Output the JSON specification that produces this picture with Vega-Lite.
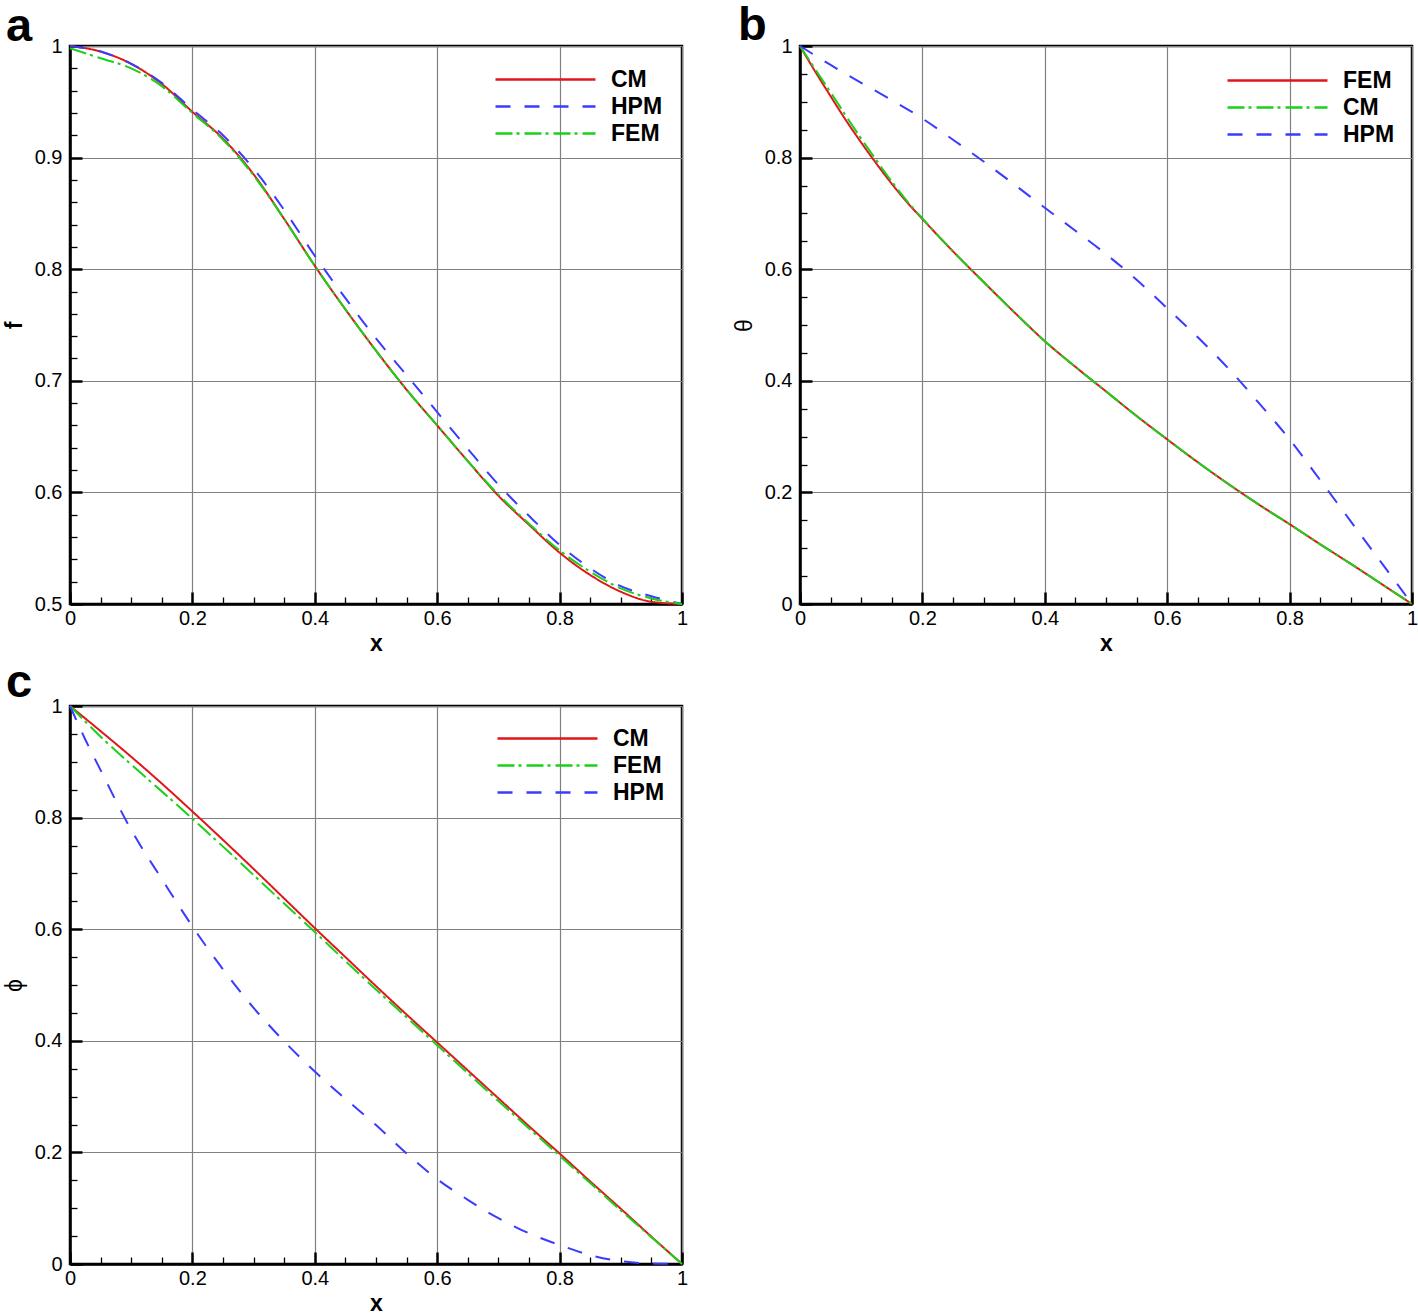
{
  "$schema": "https://vega.github.io/schema/vega-lite/v6.json",
  "background": "white",
  "padding": {"left": 1, "top": 0, "right": 0, "bottom": 0},
  "columns": 2,
  "spacing": {"column": 42, "row": 0},
  "datasets": {
    "a": [
      {"s":"CM","x":0,"y":1},{"s":"CM","x":0.05,"y":0.995},{"s":"CM","x":0.1,"y":0.984},{"s":"CM","x":0.15,"y":0.966},{"s":"CM","x":0.2,"y":0.941},{"s":"CM","x":0.25,"y":0.917},{"s":"CM","x":0.3,"y":0.885},{"s":"CM","x":0.35,"y":0.845},{"s":"CM","x":0.4,"y":0.803},{"s":"CM","x":0.45,"y":0.764},{"s":"CM","x":0.5,"y":0.727},{"s":"CM","x":0.55,"y":0.692},{"s":"CM","x":0.6,"y":0.66},{"s":"CM","x":0.65,"y":0.628},{"s":"CM","x":0.7,"y":0.597},{"s":"CM","x":0.75,"y":0.571},{"s":"CM","x":0.8,"y":0.546},{"s":"CM","x":0.85,"y":0.526},{"s":"CM","x":0.9,"y":0.511},{"s":"CM","x":0.95,"y":0.502},{"s":"CM","x":1,"y":0.5},
      {"s":"HPM","x":0,"y":1},{"s":"HPM","x":0.05,"y":0.995},{"s":"HPM","x":0.1,"y":0.984},{"s":"HPM","x":0.15,"y":0.967},{"s":"HPM","x":0.2,"y":0.943},{"s":"HPM","x":0.25,"y":0.92},{"s":"HPM","x":0.3,"y":0.89},{"s":"HPM","x":0.35,"y":0.853},{"s":"HPM","x":0.4,"y":0.812},{"s":"HPM","x":0.45,"y":0.774},{"s":"HPM","x":0.5,"y":0.738},{"s":"HPM","x":0.55,"y":0.705},{"s":"HPM","x":0.6,"y":0.672},{"s":"HPM","x":0.65,"y":0.639},{"s":"HPM","x":0.7,"y":0.607},{"s":"HPM","x":0.75,"y":0.579},{"s":"HPM","x":0.8,"y":0.553},{"s":"HPM","x":0.85,"y":0.532},{"s":"HPM","x":0.9,"y":0.516},{"s":"HPM","x":0.95,"y":0.507},{"s":"HPM","x":1,"y":0.5},
      {"s":"FEM","x":0,"y":0.998},{"s":"FEM","x":0.05,"y":0.989},{"s":"FEM","x":0.1,"y":0.98},{"s":"FEM","x":0.15,"y":0.964},{"s":"FEM","x":0.2,"y":0.94},{"s":"FEM","x":0.25,"y":0.916},{"s":"FEM","x":0.3,"y":0.884},{"s":"FEM","x":0.35,"y":0.845},{"s":"FEM","x":0.4,"y":0.803},{"s":"FEM","x":0.45,"y":0.764},{"s":"FEM","x":0.5,"y":0.727},{"s":"FEM","x":0.55,"y":0.692},{"s":"FEM","x":0.6,"y":0.66},{"s":"FEM","x":0.65,"y":0.628},{"s":"FEM","x":0.7,"y":0.598},{"s":"FEM","x":0.75,"y":0.572},{"s":"FEM","x":0.8,"y":0.548},{"s":"FEM","x":0.85,"y":0.529},{"s":"FEM","x":0.9,"y":0.514},{"s":"FEM","x":0.95,"y":0.505},{"s":"FEM","x":1,"y":0.5}
    ],
    "b": [
      {"s":"FEM","x":0,"y":1},{"s":"FEM","x":0.025,"y":0.954},{"s":"FEM","x":0.05,"y":0.91},{"s":"FEM","x":0.075,"y":0.867},{"s":"FEM","x":0.1,"y":0.827},{"s":"FEM","x":0.125,"y":0.789},{"s":"FEM","x":0.15,"y":0.753},{"s":"FEM","x":0.175,"y":0.72},{"s":"FEM","x":0.2,"y":0.69},{"s":"FEM","x":0.25,"y":0.632},{"s":"FEM","x":0.3,"y":0.577},{"s":"FEM","x":0.35,"y":0.523},{"s":"FEM","x":0.4,"y":0.471},{"s":"FEM","x":0.45,"y":0.425},{"s":"FEM","x":0.5,"y":0.381},{"s":"FEM","x":0.55,"y":0.337},{"s":"FEM","x":0.6,"y":0.295},{"s":"FEM","x":0.65,"y":0.254},{"s":"FEM","x":0.7,"y":0.215},{"s":"FEM","x":0.75,"y":0.178},{"s":"FEM","x":0.8,"y":0.143},{"s":"FEM","x":0.85,"y":0.107},{"s":"FEM","x":0.9,"y":0.072},{"s":"FEM","x":0.95,"y":0.036},{"s":"FEM","x":1,"y":0},
      {"s":"CM","x":0,"y":1},{"s":"CM","x":0.025,"y":0.958},{"s":"CM","x":0.05,"y":0.917},{"s":"CM","x":0.075,"y":0.875},{"s":"CM","x":0.1,"y":0.834},{"s":"CM","x":0.125,"y":0.795},{"s":"CM","x":0.15,"y":0.757},{"s":"CM","x":0.175,"y":0.722},{"s":"CM","x":0.2,"y":0.691},{"s":"CM","x":0.25,"y":0.632},{"s":"CM","x":0.3,"y":0.577},{"s":"CM","x":0.35,"y":0.523},{"s":"CM","x":0.4,"y":0.471},{"s":"CM","x":0.45,"y":0.425},{"s":"CM","x":0.5,"y":0.381},{"s":"CM","x":0.55,"y":0.337},{"s":"CM","x":0.6,"y":0.295},{"s":"CM","x":0.65,"y":0.254},{"s":"CM","x":0.7,"y":0.215},{"s":"CM","x":0.75,"y":0.178},{"s":"CM","x":0.8,"y":0.143},{"s":"CM","x":0.85,"y":0.107},{"s":"CM","x":0.9,"y":0.072},{"s":"CM","x":0.95,"y":0.036},{"s":"CM","x":1,"y":0},
      {"s":"HPM","x":0,"y":1},{"s":"HPM","x":0.05,"y":0.966},{"s":"HPM","x":0.1,"y":0.934},{"s":"HPM","x":0.15,"y":0.903},{"s":"HPM","x":0.2,"y":0.87},{"s":"HPM","x":0.25,"y":0.832},{"s":"HPM","x":0.3,"y":0.793},{"s":"HPM","x":0.35,"y":0.752},{"s":"HPM","x":0.4,"y":0.71},{"s":"HPM","x":0.45,"y":0.669},{"s":"HPM","x":0.5,"y":0.627},{"s":"HPM","x":0.55,"y":0.581},{"s":"HPM","x":0.6,"y":0.53},{"s":"HPM","x":0.65,"y":0.478},{"s":"HPM","x":0.7,"y":0.422},{"s":"HPM","x":0.75,"y":0.36},{"s":"HPM","x":0.8,"y":0.295},{"s":"HPM","x":0.85,"y":0.222},{"s":"HPM","x":0.9,"y":0.148},{"s":"HPM","x":0.95,"y":0.074},{"s":"HPM","x":1,"y":0}
    ],
    "c": [
      {"s":"CM","x":0,"y":1},{"s":"CM","x":0.05,"y":0.955},{"s":"CM","x":0.1,"y":0.909},{"s":"CM","x":0.15,"y":0.861},{"s":"CM","x":0.2,"y":0.811},{"s":"CM","x":0.25,"y":0.76},{"s":"CM","x":0.3,"y":0.708},{"s":"CM","x":0.35,"y":0.655},{"s":"CM","x":0.4,"y":0.602},{"s":"CM","x":0.45,"y":0.55},{"s":"CM","x":0.5,"y":0.498},{"s":"CM","x":0.55,"y":0.447},{"s":"CM","x":0.6,"y":0.397},{"s":"CM","x":0.65,"y":0.347},{"s":"CM","x":0.7,"y":0.297},{"s":"CM","x":0.75,"y":0.247},{"s":"CM","x":0.8,"y":0.198},{"s":"CM","x":0.85,"y":0.148},{"s":"CM","x":0.9,"y":0.099},{"s":"CM","x":0.95,"y":0.049},{"s":"CM","x":1,"y":0},
      {"s":"FEM","x":0,"y":1},{"s":"FEM","x":0.05,"y":0.945},{"s":"FEM","x":0.1,"y":0.895},{"s":"FEM","x":0.15,"y":0.847},{"s":"FEM","x":0.2,"y":0.798},{"s":"FEM","x":0.25,"y":0.748},{"s":"FEM","x":0.3,"y":0.697},{"s":"FEM","x":0.35,"y":0.646},{"s":"FEM","x":0.4,"y":0.595},{"s":"FEM","x":0.45,"y":0.543},{"s":"FEM","x":0.5,"y":0.492},{"s":"FEM","x":0.55,"y":0.442},{"s":"FEM","x":0.6,"y":0.392},{"s":"FEM","x":0.65,"y":0.342},{"s":"FEM","x":0.7,"y":0.292},{"s":"FEM","x":0.75,"y":0.243},{"s":"FEM","x":0.8,"y":0.194},{"s":"FEM","x":0.85,"y":0.145},{"s":"FEM","x":0.9,"y":0.096},{"s":"FEM","x":0.95,"y":0.048},{"s":"FEM","x":1,"y":0},
      {"s":"HPM","x":0,"y":1},{"s":"HPM","x":0.025,"y":0.94},{"s":"HPM","x":0.05,"y":0.885},{"s":"HPM","x":0.1,"y":0.778},{"s":"HPM","x":0.15,"y":0.69},{"s":"HPM","x":0.2,"y":0.605},{"s":"HPM","x":0.25,"y":0.528},{"s":"HPM","x":0.3,"y":0.459},{"s":"HPM","x":0.35,"y":0.399},{"s":"HPM","x":0.4,"y":0.345},{"s":"HPM","x":0.45,"y":0.296},{"s":"HPM","x":0.5,"y":0.249},{"s":"HPM","x":0.55,"y":0.198},{"s":"HPM","x":0.6,"y":0.152},{"s":"HPM","x":0.65,"y":0.115},{"s":"HPM","x":0.7,"y":0.082},{"s":"HPM","x":0.75,"y":0.055},{"s":"HPM","x":0.8,"y":0.034},{"s":"HPM","x":0.85,"y":0.016},{"s":"HPM","x":0.9,"y":0.005},{"s":"HPM","x":0.95,"y":0.001},{"s":"HPM","x":1,"y":0}
    ]
  },
  "concat": [
    {
      "width": 612, "height": 558,
      "data": {"name": "a"},
      "title": {"text": "a", "anchor": "start", "frame": "group", "dx": -64, "offset": -15, "fontSize": 47, "fontWeight": "bold", "font": "Liberation Sans", "color": "black"},
      "layer": [
        {
          "mark": {"type": "line", "strokeWidth": 2, "interpolate": "monotone"},
          "encoding": {
            "x": {"field": "x", "type": "quantitative", "scale": {"domain": [0, 1], "nice": false, "zero": false},
              "axis": {"orient": "bottom", "values": [0, 0.2, 0.4, 0.6, 0.8, 1], "format": "~g", "title": "x", "titleFontWeight": "bold", "titleFontSize": 23, "titlePadding": 4, "labelPadding": 16, "tickSize": -12, "tickWidth": 2.5, "grid": true}},
            "y": {"field": "y", "type": "quantitative", "scale": {"domain": [0.5, 1], "nice": false, "zero": false},
              "axis": {"orient": "left", "values": [0.5, 0.6, 0.7, 0.8, 0.9, 1], "format": "~g", "title": "f", "titleFontWeight": "bold", "titleFontSize": 23, "titlePadding": 8, "labelPadding": 20, "tickSize": -12, "tickWidth": 2.5, "grid": true}},
            "color": {"field": "s", "type": "nominal", "scale": {"domain": ["CM", "HPM", "FEM"], "range": ["#e0161b", "#3b3bff", "#19d119"]},
              "legend": {"orient": "none", "legendX": 464, "legendY": 22}},
            "strokeDash": {"field": "s", "type": "nominal", "scale": {"domain": ["CM", "HPM", "FEM"], "range": [[1, 0], [15, 14], [17, 4, 3, 5]]},
              "legend": {"orient": "none", "legendX": 464, "legendY": 22}}
          }
        },
        {
          "mark": {"type": "line", "strokeOpacity": 0},
          "encoding": {
            "x": {"field": "x", "type": "quantitative", "axis": {"orient": "bottom", "values": [0.05, 0.1, 0.15, 0.25, 0.3, 0.35, 0.45, 0.5, 0.55, 0.65, 0.7, 0.75, 0.85, 0.9, 0.95], "labels": false, "domain": false, "grid": false, "title": null, "tickSize": -7, "tickWidth": 1.3}},
            "y": {"field": "y", "type": "quantitative", "axis": {"orient": "left", "values": [0.52, 0.54, 0.56, 0.58, 0.62, 0.64, 0.66, 0.68, 0.72, 0.74, 0.76, 0.78, 0.82, 0.84, 0.86, 0.88, 0.92, 0.94, 0.96, 0.98], "labels": false, "domain": false, "grid": false, "title": null, "tickSize": -7, "tickWidth": 1.3}},
            "detail": {"field": "s"}
          }
        }
      ],
      "resolve": {"axis": {"x": "independent", "y": "independent"}}
    },
    {
      "width": 612, "height": 558,
      "data": {"name": "b"},
      "title": {"text": "b", "anchor": "start", "frame": "group", "dx": -62, "offset": -14, "fontSize": 47, "fontWeight": "bold", "font": "Liberation Sans", "color": "black"},
      "layer": [
        {
          "mark": {"type": "line", "strokeWidth": 2, "interpolate": "monotone"},
          "encoding": {
            "x": {"field": "x", "type": "quantitative", "scale": {"domain": [0, 1], "nice": false, "zero": false},
              "axis": {"orient": "bottom", "values": [0, 0.2, 0.4, 0.6, 0.8, 1], "format": "~g", "title": "x", "titleFontWeight": "bold", "titleFontSize": 23, "titlePadding": 4, "labelPadding": 16, "tickSize": -12, "tickWidth": 2.5, "grid": true}},
            "y": {"field": "y", "type": "quantitative", "scale": {"domain": [0, 1], "nice": false, "zero": false},
              "axis": {"orient": "left", "values": [0, 0.2, 0.4, 0.6, 0.8, 1], "format": "~g", "title": "θ", "titleFontWeight": "normal", "titleFontSize": 23, "titlePadding": 8, "labelPadding": 20, "tickSize": -12, "tickWidth": 2.5, "grid": true}},
            "color": {"field": "s", "type": "nominal", "scale": {"domain": ["FEM", "CM", "HPM"], "range": ["#e0161b", "#19d119", "#3b3bff"]},
              "legend": {"orient": "none", "legendX": 466, "legendY": 23}},
            "strokeDash": {"field": "s", "type": "nominal", "scale": {"domain": ["FEM", "CM", "HPM"], "range": [[1, 0], [17, 4, 3, 5], [15, 14]]},
              "legend": {"orient": "none", "legendX": 466, "legendY": 23}}
          }
        },
        {
          "mark": {"type": "line", "strokeOpacity": 0},
          "encoding": {
            "x": {"field": "x", "type": "quantitative", "axis": {"orient": "bottom", "values": [0.05, 0.1, 0.15, 0.25, 0.3, 0.35, 0.45, 0.5, 0.55, 0.65, 0.7, 0.75, 0.85, 0.9, 0.95], "labels": false, "domain": false, "grid": false, "title": null, "tickSize": -7, "tickWidth": 1.3}},
            "y": {"field": "y", "type": "quantitative", "axis": {"orient": "left", "values": [0.05, 0.1, 0.15, 0.25, 0.3, 0.35, 0.45, 0.5, 0.55, 0.65, 0.7, 0.75, 0.85, 0.9, 0.95], "labels": false, "domain": false, "grid": false, "title": null, "tickSize": -7, "tickWidth": 1.3}},
            "detail": {"field": "s"}
          }
        }
      ],
      "resolve": {"axis": {"x": "independent", "y": "independent"}}
    },
    {
      "width": 612, "height": 558,
      "data": {"name": "c"},
      "title": {"text": "c", "anchor": "start", "frame": "group", "dx": -64, "offset": -11, "fontSize": 47, "fontWeight": "bold", "font": "Liberation Sans", "color": "black"},
      "layer": [
        {
          "mark": {"type": "line", "strokeWidth": 2, "interpolate": "monotone"},
          "encoding": {
            "x": {"field": "x", "type": "quantitative", "scale": {"domain": [0, 1], "nice": false, "zero": false},
              "axis": {"orient": "bottom", "values": [0, 0.2, 0.4, 0.6, 0.8, 1], "format": "~g", "title": "x", "titleFontWeight": "bold", "titleFontSize": 23, "titlePadding": 4, "labelPadding": 16, "tickSize": -12, "tickWidth": 2.5, "grid": true}},
            "y": {"field": "y", "type": "quantitative", "scale": {"domain": [0, 1], "nice": false, "zero": false},
              "axis": {"orient": "left", "values": [0, 0.2, 0.4, 0.6, 0.8, 1], "format": "~g", "title": "ϕ", "titleFontWeight": "normal", "titleFontSize": 23, "titlePadding": 8, "labelPadding": 20, "tickSize": -12, "tickWidth": 2.5, "grid": true}},
            "color": {"field": "s", "type": "nominal", "scale": {"domain": ["CM", "FEM", "HPM"], "range": ["#e0161b", "#19d119", "#3b3bff"]},
              "legend": {"orient": "none", "legendX": 466, "legendY": 21}},
            "strokeDash": {"field": "s", "type": "nominal", "scale": {"domain": ["CM", "FEM", "HPM"], "range": [[1, 0], [17, 4, 3, 5], [15, 14]]},
              "legend": {"orient": "none", "legendX": 466, "legendY": 21}}
          }
        },
        {
          "mark": {"type": "line", "strokeOpacity": 0},
          "encoding": {
            "x": {"field": "x", "type": "quantitative", "axis": {"orient": "bottom", "values": [0.05, 0.1, 0.15, 0.25, 0.3, 0.35, 0.45, 0.5, 0.55, 0.65, 0.7, 0.75, 0.85, 0.9, 0.95], "labels": false, "domain": false, "grid": false, "title": null, "tickSize": -7, "tickWidth": 1.3}},
            "y": {"field": "y", "type": "quantitative", "axis": {"orient": "left", "values": [0.05, 0.1, 0.15, 0.25, 0.3, 0.35, 0.45, 0.5, 0.55, 0.65, 0.7, 0.75, 0.85, 0.9, 0.95], "labels": false, "domain": false, "grid": false, "title": null, "tickSize": -7, "tickWidth": 1.3}},
            "detail": {"field": "s"}
          }
        }
      ],
      "resolve": {"axis": {"x": "independent", "y": "independent"}}
    }
  ],
  "resolve": {"scale": {"color": "independent", "strokeDash": "independent"}, "legend": {"color": "independent", "strokeDash": "independent"}},
  "config": {
    "font": "Liberation Sans",
    "view": {"stroke": "black", "strokeWidth": 2.5},
    "axis": {"labelFont": "Liberation Sans", "labelFontSize": 20, "labelColor": "black", "labelFlush": false, "titleFont": "Liberation Sans", "titleColor": "black", "domainColor": "black", "domainWidth": 2.5, "tickColor": "black", "gridColor": "#808080", "gridWidth": 1.2, "gridOpacity": 1},
    "legend": {"title": null, "symbolType": "M-5,0H5", "symbolSize": 400, "symbolStrokeWidth": 2.5, "labelFont": "Liberation Sans", "labelFontSize": 23, "labelFontWeight": "bold", "labelColor": "black", "labelOffset": 54, "rowPadding": 3, "padding": 0, "labelLimit": 0}
  }
}
